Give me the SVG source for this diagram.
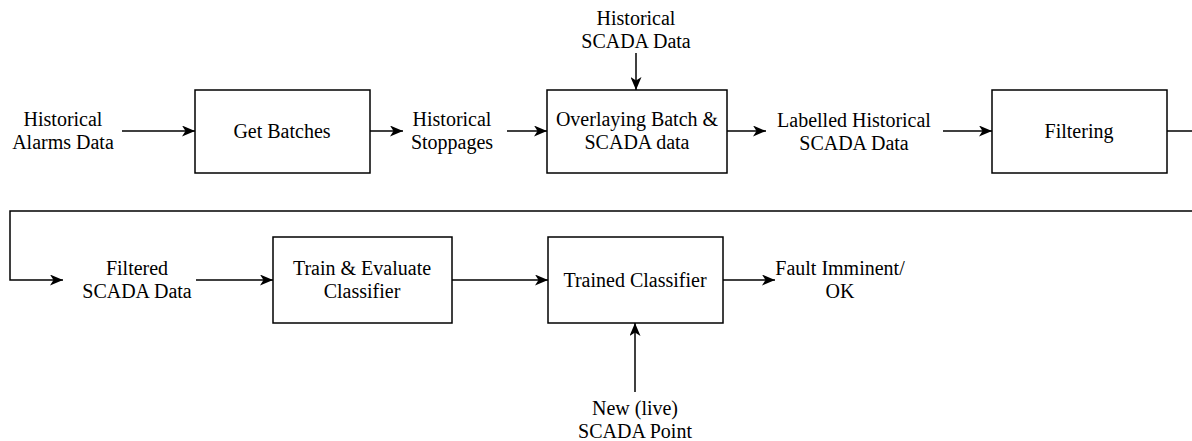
<svg xmlns="http://www.w3.org/2000/svg" width="1192" height="441" viewBox="0 0 1192 441">
<defs>
<marker id="ah" viewBox="0 0 13 11" refX="13" refY="5.5" markerWidth="13" markerHeight="11" markerUnits="userSpaceOnUse" orient="auto">
<path d="M0,0 L13,5.5 L0,11 L3.5,5.5 z" fill="#000"/>
</marker>
<style>
.box{fill:#fff;stroke:#000;stroke-width:1.5}
.t{font-family:'Liberation Serif','DejaVu Serif',serif;font-size:20px;fill:#000;text-anchor:middle}
.c{fill:none;stroke:#000;stroke-width:1.5}
.a{marker-end:url(#ah)}
</style>
</defs>
<rect width="1192" height="441" fill="#fff"/>
<g id="connectors">
<line class="c a" x1="122" y1="131" x2="195" y2="131"/>
<line class="c a" x1="370" y1="131" x2="403" y2="131"/>
<line class="c a" x1="507" y1="131" x2="547" y2="131"/>
<line class="c a" x1="636" y1="53" x2="636" y2="90"/>
<line class="c a" x1="727" y1="131" x2="766" y2="131"/>
<line class="c a" x1="943" y1="131" x2="992" y2="131"/>
<line class="c" x1="1167" y1="131" x2="1192" y2="131"/>
<polyline class="c a" points="1192,211 10,211 10,280 63,280"/>
<line class="c a" x1="196" y1="280" x2="273" y2="280"/>
<line class="c a" x1="452" y1="280" x2="548" y2="280"/>
<line class="c a" x1="723" y1="280" x2="775" y2="280"/>
<line class="c a" x1="635" y1="392" x2="635" y2="323"/>
</g>
<g id="in-alarms"><text class="t" x="63" y="126">Historical</text><text class="t" x="63" y="149">Alarms Data</text></g>
<g id="get-batches"><rect class="box" x="195" y="90" width="175" height="83"/><text class="t" x="282" y="138">Get Batches</text></g>
<g id="stoppages"><text class="t" x="452" y="126">Historical</text><text class="t" x="452" y="149">Stoppages</text></g>
<g id="in-scada"><text class="t" x="636" y="25">Historical</text><text class="t" x="636" y="48">SCADA Data</text></g>
<g id="overlaying"><rect class="box" x="547" y="90" width="180" height="83"/><text class="t" x="637" y="126">Overlaying Batch &amp;</text><text class="t" x="637" y="149">SCADA data</text></g>
<g id="labelled"><text class="t" x="854" y="127">Labelled Historical</text><text class="t" x="854" y="150">SCADA Data</text></g>
<g id="filtering"><rect class="box" x="992" y="90" width="175" height="83"/><text class="t" x="1079" y="138">Filtering</text></g>
<g id="filtered"><text class="t" x="137" y="275">Filtered</text><text class="t" x="137" y="298">SCADA Data</text></g>
<g id="train"><rect class="box" x="273" y="237" width="179" height="86"/><text class="t" x="362" y="275">Train &amp; Evaluate</text><text class="t" x="362" y="298">Classifier</text></g>
<g id="trained"><rect class="box" x="548" y="237" width="175" height="86"/><text class="t" x="635" y="287">Trained Classifier</text></g>
<g id="output"><text class="t" x="840" y="275">Fault Imminent/</text><text class="t" x="840" y="298">OK</text></g>
<g id="in-live"><text class="t" x="635" y="415">New (live)</text><text class="t" x="635" y="438">SCADA Point</text></g>
</svg>
